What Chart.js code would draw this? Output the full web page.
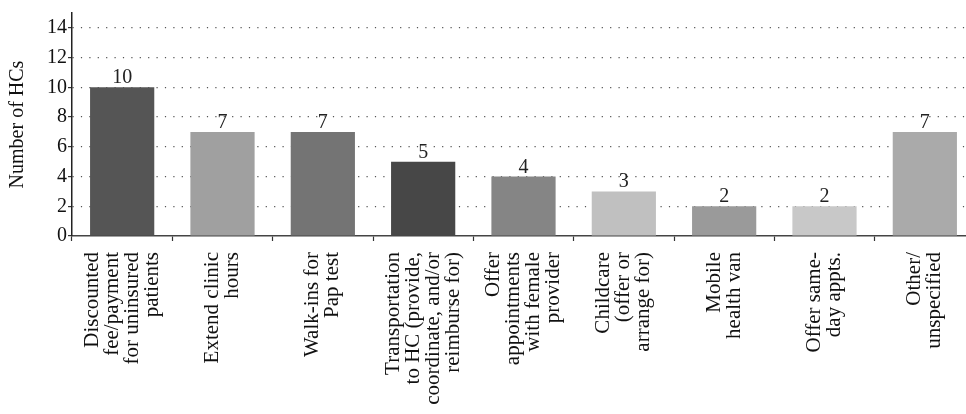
<!DOCTYPE html>
<html>
<head>
<meta charset="utf-8">
<script src="https://cdn.jsdelivr.net/npm/chart.js@4.4.1/dist/chart.umd.min.js"></script>
<style>
  html, body { margin: 0; padding: 0; background: #fff; overflow: hidden; }
  /* the plot runs a few pixels past the right edge, like the original figure */
  #clip { width: 966px; height: 414px; overflow: hidden; }
  #wrap { width: 975px; height: 414px; position: relative; }
</style>
</head>
<body>
<div id="clip"><div id="wrap"><canvas id="hcChart"></canvas></div></div>
<script>
// categories (one array per wrapped label)
var categories = [
  ['Discounted', 'fee/payment', 'for uninsured', 'patients'],
  ['Extend clinic', 'hours'],
  ['Walk-ins for', 'Pap test'],
  ['Transportation', 'to HC (provide,', 'coordinate, and/or', 'reimburse for)'],
  ['Offer', 'appointments', 'with female', 'provider'],
  ['Childcare', '(offer or', 'arrange for)'],
  ['Mobile', 'health van'],
  ['Offer same-', 'day appts.'],
  ['Other/', 'unspecified']
];
var hcCounts = [10, 7, 7, 5, 4, 3, 2, 2, 7];
var barColors = ['#555555', '#a0a0a0', '#747474', '#474747', '#858585', '#c0c0c0', '#9a9a9a', '#c8c8c8', '#aaaaaa'];
var yTicks = [0, 2, 4, 6, 8, 10, 12, 14];

var serif = '"Liberation Serif", "DejaVu Serif", serif';

// value on top of each bar
var valueLabels = {
  id: 'valueLabels',
  afterDatasetsDraw: function(chart) {
    var ctx = chart.ctx;
    var meta = chart.getDatasetMeta(0);
    ctx.save();
    ctx.font = '20px ' + serif;
    ctx.fillStyle = '#222';
    ctx.textAlign = 'center';
    ctx.textBaseline = 'alphabetic';
    meta.data.forEach(function(bar, i) {
      ctx.fillText(hcCounts[i], bar.x, bar.y - 4);
    });
    ctx.restore();
  }
};

// rotated, wrapped category labels centred under each bar
var rotatedLabels = {
  id: 'rotatedLabels',
  afterDraw: function(chart) {
    var ctx = chart.ctx;
    var xs = chart.scales.x;
    var lh = 20;
    ctx.save();
    ctx.font = '21px ' + serif;
    ctx.fillStyle = '#111';
    ctx.textAlign = 'right';
    ctx.textBaseline = 'middle';
    categories.forEach(function(lines, i) {
      var px = xs.getPixelForTick(i);
      ctx.save();
      ctx.translate(px, xs.top + 16);
      ctx.rotate(-Math.PI / 2);
      lines.forEach(function(line, j) {
        ctx.fillText(line, 0, (j - (lines.length - 1) / 2) * lh);
      });
      ctx.restore();
    });
    ctx.restore();
  }
};

new Chart(document.getElementById('hcChart'), {
  type: 'bar',
  data: {
    labels: categories,
    datasets: [{
      label: 'Number of HCs',
      data: hcCounts,
      backgroundColor: barColors,
      borderWidth: 0,
      barPercentage: 0.64,
      categoryPercentage: 1
    }]
  },
  options: {
    responsive: true,
    maintainAspectRatio: false,
    animation: false,
    layout: { padding: { top: 3.5, right: 0, bottom: 0, left: 0 } },
    plugins: {
      legend: { display: false },
      tooltip: { enabled: false }
    },
    scales: {
      x: {
        grid: {
          display: true,
          drawOnChartArea: false,
          drawTicks: true,
          tickLength: 5,
          tickColor: '#333',
          tickWidth: 1.2,
          offset: true
        },
        border: { display: true, color: '#444', width: 1.5 },
        ticks: { display: false, autoSkip: false },
        afterFit: function(scale) { scale.height = 178; }
      },
      y: {
        min: 0,
        max: 15,
        ticks: {
          stepSize: 2,
          color: '#111',
          font: { family: serif, size: 20 },
          padding: 1
        },
        afterBuildTicks: function(scale) {
          scale.ticks = yTicks.map(function(v) { return { value: v }; });
        },
        grid: {
          color: function(c) { return c.tick && c.tick.value === 0 ? 'rgba(0,0,0,0)' : '#555'; },
          lineWidth: 1.2,
          tickBorderDash: [],
          tickColor: '#333',
          tickLength: 4,
          drawTicks: true
        },
        border: { display: true, color: '#222', width: 1.5, dash: [1.2, 7.2] },
        title: {
          display: true,
          text: 'Number of HCs',
          color: '#111',
          font: { family: serif, size: 20 },
          padding: { top: 6, bottom: 0 }
        },
        afterFit: function(scale) { scale.width = 72; }
      }
    }
  },
  plugins: [valueLabels, rotatedLabels]
});
</script>
</body>
</html>
